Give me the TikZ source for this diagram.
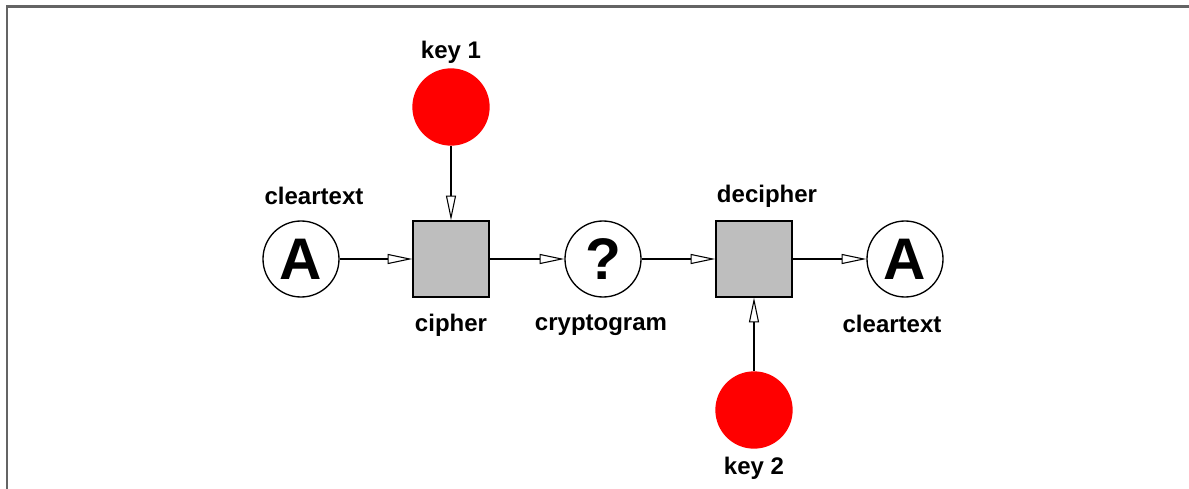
\documentclass[tikz,border=0pt]{standalone}
\usepackage{fontspec}
\setmainfont{Liberation Sans}
\usetikzlibrary{arrows.meta}
\definecolor{boxgray}{RGB}{190,190,190}
\definecolor{framegray}{RGB}{100,100,100}
\begin{document}
\begin{tikzpicture}[x=0.75pt,y=-0.75pt,
  lbl/.style={font=\bfseries\fontsize{18}{20}\selectfont, inner sep=0pt},
  datacirc/.style={circle, draw=black, line width=1pt, fill=white, minimum size=57pt, inner sep=0pt, font=\bfseries\fontsize{44}{46}\selectfont},
  procbox/.style={rectangle, draw=black, line width=1pt, fill=boxgray, minimum size=57pt, inner sep=0pt},
  keycirc/.style={circle, fill=red, minimum size=58pt, inner sep=0pt},
  flow/.style={line width=0.9pt, -{Triangle[open, length=18.5pt, width=7.5pt, line width=0.8pt]}}
]
\useasboundingbox (0,0) rectangle (1189,489);
\draw[framegray, line width=1.6pt] (7,489) -- (7,6.5) -- (1189,6.5);

\node[datacirc] (ct1) at (301,259) {A};
\node[procbox] (ciph) at (451,259) {};
\node[datacirc] (crypt) at (603,259) {?};
\node[procbox] (deciph) at (754,259) {};
\node[datacirc] (ct2) at (905,259) {A};
\node[keycirc] (k1) at (451,107) {};
\node[keycirc] (k2) at (754,410) {};

\node[lbl] (lct1) at (314,196) {cleartext};
\node[lbl] (lk1) at (451,52) {key 1};
\node[lbl] (lciph) at (451,325) {cipher};
\node[lbl] (lcrypt) at (601,325) {cryptogram};
\node[lbl] (ldec) at (767,196) {decipher};
\node[lbl] (lct2) at (892,324) {cleartext};
\node[lbl] (lk2) at (754,468) {key 2};

\draw[flow] (ct1) -- (ciph);
\draw[flow] (ciph) -- (crypt);
\draw[flow] (crypt) -- (deciph);
\draw[flow] (deciph) -- (ct2);
\draw[flow] (k1) -- (ciph);
\draw[flow] (k2) -- (deciph);
\end{tikzpicture}
\end{document}
